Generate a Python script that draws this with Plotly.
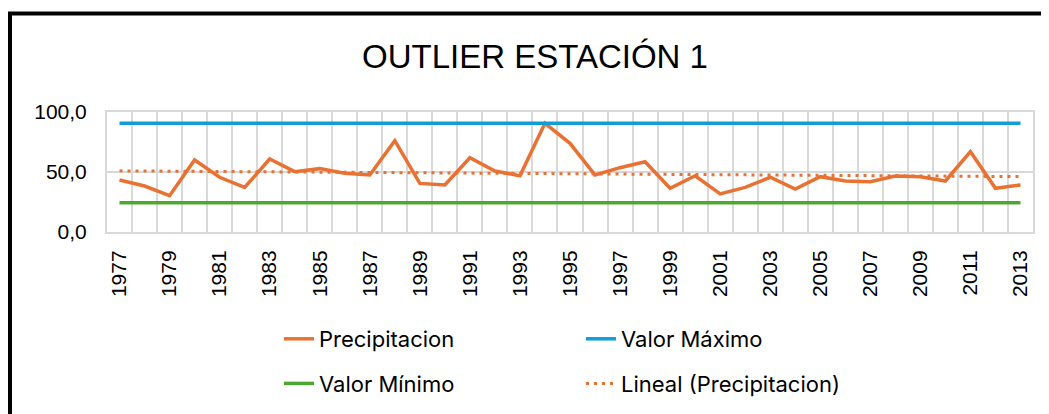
import numpy as np
import plotly.graph_objects as go

years = list(range(1977, 2014))
precipitacion = [43.3, 38.3, 30.3, 60.0, 45.6, 37.2, 60.8, 50.3, 52.8, 48.9,
                 47.5, 76.1, 40.5, 39.2, 61.9, 50.8, 46.9, 90.6, 73.9, 47.5,
                 53.6, 58.6, 36.4, 46.9, 31.8, 37.2, 45.6, 35.8, 46.1, 42.5,
                 41.9, 46.7, 46.1, 42.5, 66.9, 36.4, 39.2]
valor_maximo = 90.6
valor_minimo = 24.4
tick_years = list(range(1977, 2014, 2))
tick_labels = [str(y) for y in tick_years]

# Linear trendline (as Excel's "Lineal")
coef = np.polyfit(years, precipitacion, 1)
lineal = list(np.polyval(coef, years))

ORANGE = "#E97132"
BLUE = "#0F9ED5"
GREEN = "#4EA72E"
GRID = "#D9D9D9"

fig = go.Figure()
fig.add_trace(go.Scatter(x=years, y=precipitacion, mode="lines", name="Precipitacion",
                         line=dict(color=ORANGE, width=3.5), legend="legend", legendgroup="a"))
fig.add_trace(go.Scatter(x=years, y=[valor_maximo] * len(years), mode="lines", name="Valor Máximo",
                         line=dict(color=BLUE, width=3.5), legend="legend2", legendgroup="b"))
fig.add_trace(go.Scatter(x=years, y=[valor_minimo] * len(years), mode="lines", name="Valor Mínimo",
                         line=dict(color=GREEN, width=3.5), legend="legend", legendgroup="c"))
fig.add_trace(go.Scatter(x=years, y=lineal, mode="lines", name="Lineal (Precipitacion)",
                         line=dict(color=ORANGE, width=3, dash="3px,5px"), legend="legend2", legendgroup="d"))

# page offset of the figure div (body margin)
OFF = 8
W, H = 1049, 414
# plot area in page pixels
L, R, T, B = 107, 1033, 112, 232
pw, ph = R - L, B - T
def px(p):
    return (p - L) / pw
def py(q):
    return (B - q) / ph

legend_font = dict(family="Inter, Liberation Sans, Arial", size=22, color="#000000")

fig.update_layout(
    width=W, height=H,
    margin=dict(l=L - OFF, r=W - (R - OFF), t=T - OFF, b=H - (B - OFF)),
    paper_bgcolor="white", plot_bgcolor="white",
    separators=",.",
    title=dict(text="OUTLIER ESTACIÓN 1", x=(535 - OFF) / W, xanchor="center",
               y=1 - (56 - OFF) / H, yanchor="middle", yref="container",
               font=dict(family="Liberation Sans, Arial", size=33, color="#000000")),
    xaxis=dict(range=[1976.5, 2013.5], tickmode="array", tickvals=tick_years, ticktext=tick_labels,
               tickangle=-90, showgrid=False, zeroline=False,
               showline=True, mirror=True, linecolor=GRID, linewidth=2,
               ticks="", ticklabelstandoff=8,
               tickfont=dict(family="Liberation Sans, Arial", size=21, color="#000000"),
               minor=dict(tick0=1976.5, dtick=1, showgrid=True, gridcolor=GRID, gridwidth=2)),
    yaxis=dict(range=[0, 100], tickmode="array", tickvals=[0, 50, 100], tickformat=".1f",
               showgrid=True, gridcolor=GRID, gridwidth=2, zeroline=False,
               showline=True, mirror=True, linecolor=GRID, linewidth=2,
               ticks="", ticklabelstandoff=14,
               tickfont=dict(family="Liberation Sans, Arial", size=21, color="#000000")),
    legend=dict(x=px(279), y=py(318), xanchor="left", yanchor="top",
                traceorder="grouped", tracegroupgap=13, font=legend_font,
                bgcolor="rgba(0,0,0,0)", borderwidth=0),
    legend2=dict(x=px(581), y=py(318), xanchor="left", yanchor="top",
                 traceorder="grouped", tracegroupgap=13, font=legend_font,
                 bgcolor="rgba(0,0,0,0)", borderwidth=0),
    shapes=[dict(type="rect", xref="paper", yref="paper",
                 x0=px(10), x1=px(1070), y0=py(440), y1=py(13.5),
                 line=dict(color="#000000", width=4), fillcolor="rgba(0,0,0,0)", layer="above")],
)

fig.write_html("out.html")
